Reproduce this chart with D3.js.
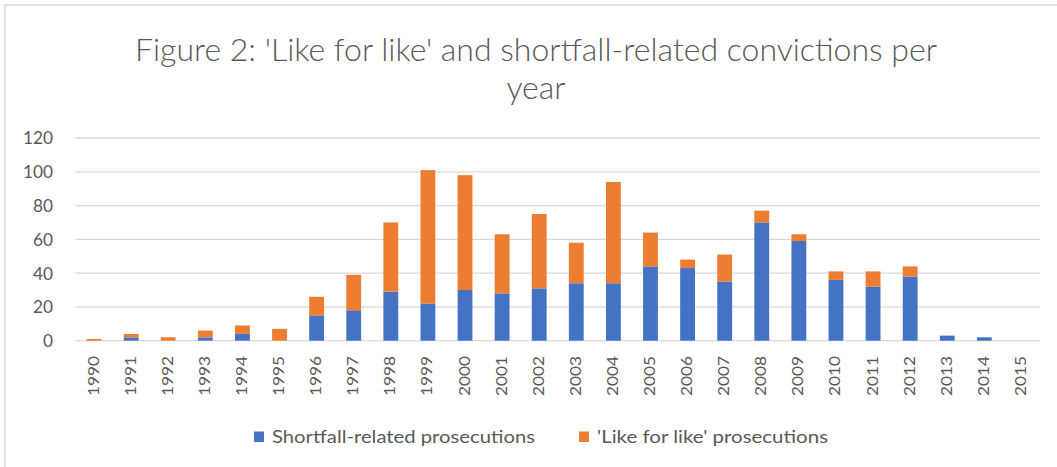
<!DOCTYPE html>
<html lang="en">
<head>
  <meta charset="utf-8">
  <title>Figure 2: convictions per year</title>
  <script src="https://d3js.org/d3.v7.min.js"></script>
  <style>
    html, body {
      margin: 0;
      padding: 0;
      width: 100%;
      height: 100%;
      background: #fff;
    }
    svg {
      display: block;
      font-family: Lato, "Open Sans", sans-serif;
    }
    .grid line { stroke: #d9d9d9; stroke-width: 1.3px; }
    .axis text { fill: #595959; }
  </style>
</head>
<body>
  <svg width="1057" height="467"></svg>
  <script>
    // data
    const years = d3.range(1990, 2016).map(String);
    const shortfall = [0, 2, 0, 2, 4, 0, 15, 18, 29, 22, 30, 28, 31, 34, 34, 44, 43, 35, 70, 59, 36, 32, 38, 3, 2, 0];
    const likeForLike = [1, 2, 2, 4, 5, 7, 11, 21, 41, 79, 68, 35, 44, 24, 60, 20, 5, 16, 7, 4, 5, 9, 6, 0, 0, 0];
    const seriesNames = ["Shortfall-related prosecutions", "'Like for like' prosecutions"];
    const colors = ["#4472c4", "#ed7d31"];
    const yTicks = [0, 20, 40, 60, 80, 100, 120];

    const svg = d3.select("svg");
    const margin = { left: 75.5, right: 1040, top: 138, bottom: 340.7 };

    // chart border (only top and left edges show in the crop)
    svg.append("path")
      .attr("d", "M5,470 V5 H1060")
      .attr("fill", "none")
      .attr("stroke", "#d9d9d9")
      .attr("stroke-width", 1.5);

    const table = years.map((y, i) => ({ year: y, s: shortfall[i], l: likeForLike[i] }));
    const stacked = d3.stack().keys(["s", "l"])(table);

    const x = d3.scaleBand().domain(years).range([margin.left, margin.right]).paddingInner(0.6).paddingOuter(0.3);
    const y = d3.scaleLinear().domain([0, 120]).range([margin.bottom, margin.top]);

    // gridlines
    svg.append("g").attr("class", "grid")
      .selectAll("line").data(yTicks).join("line")
      .attr("x1", margin.left).attr("x2", margin.right)
      .attr("y1", d => y(d)).attr("y2", d => y(d));

    // y axis labels (the source is a bit stretched, so widths are pinned)
    svg.append("g").attr("class", "axis")
      .selectAll("text").data(yTicks).join("text")
      .attr("x", 53).attr("y", d => y(d))
      .attr("dy", "0.36em")
      .attr("text-anchor", "end")
      .attr("font-size", 18)
      .attr("textLength", d => String(d).length * 10)
      .attr("lengthAdjust", "spacingAndGlyphs")
      .text(d => d);

    // bars
    svg.append("g")
      .selectAll("g").data(stacked).join("g")
      .attr("fill", (d, i) => colors[i])
      .selectAll("rect").data(d => d).join("rect")
      .attr("x", d => x(d.data.year))
      .attr("width", x.bandwidth())
      .attr("y", d => y(d[1]))
      .attr("height", d => y(d[0]) - y(d[1]));

    // x axis labels, rotated
    svg.append("g").attr("class", "axis")
      .selectAll("text").data(years).join("text")
      .attr("transform", d => `translate(${x(d) + x.bandwidth() / 2 + 4.5},356) rotate(-90)`)
      .attr("text-anchor", "end")
      .attr("font-size", 15)
      .attr("textLength", 40)
      .attr("lengthAdjust", "spacingAndGlyphs")
      .text(d => d);

    // title
    const title = svg.append("text")
      .attr("text-anchor", "middle")
      .attr("fill", "#595959")
      .attr("font-size", 32)
      .style("font-weight", 300);
    title.append("tspan").attr("x", 536).attr("y", 61)
      .attr("textLength", 802).attr("lengthAdjust", "spacingAndGlyphs")
      .text("Figure 2: 'Like for like' and shortfall-related convictions per");
    title.append("tspan").attr("x", 536).attr("y", 99).text("year");

    // legend
    const legendX = [254, 579];
    const legendW = [263, 231];
    const legend = svg.append("g").selectAll("g").data(seriesNames).join("g")
      .attr("transform", (d, i) => `translate(${legendX[i]},431.5)`);
    legend.append("rect").attr("width", 10).attr("height", 10.5).attr("fill", (d, i) => colors[i]);
    legend.append("text")
      .attr("x", 18).attr("y", 11)
      .attr("fill", "#595959").attr("font-size", 18)
      .attr("textLength", (d, i) => legendW[i])
      .attr("lengthAdjust", "spacingAndGlyphs")
      .text(d => d);
  </script>
</body>
</html>
